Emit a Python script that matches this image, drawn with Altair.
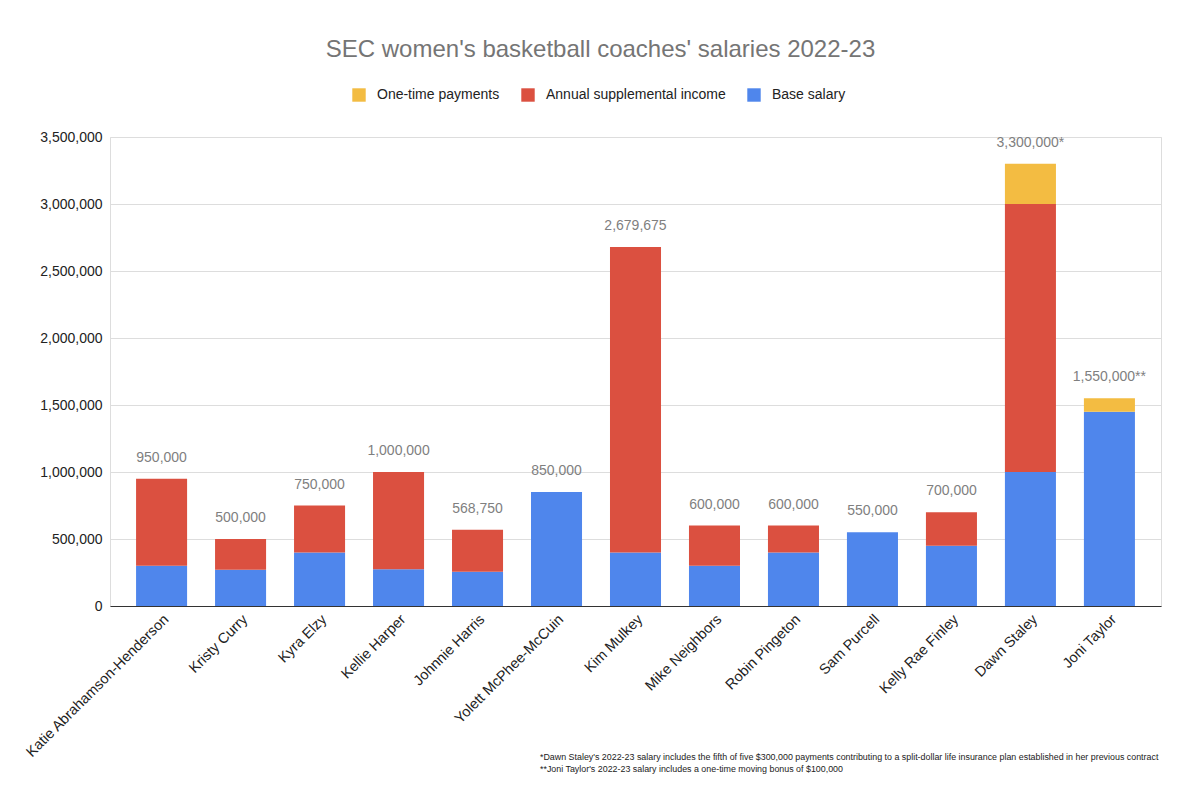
import altair as alt
import pandas as pd

coaches = ["Katie Abrahamson-Henderson", "Kristy Curry", "Kyra Elzy", "Kellie Harper",
           "Johnnie Harris", "Yolett McPhee-McCuin", "Kim Mulkey", "Mike Neighbors",
           "Robin Pingeton", "Sam Purcell", "Kelly Rae Finley", "Dawn Staley", "Joni Taylor"]
base_salary = [300000, 270000, 400000, 275000, 255000, 850000, 400000, 300000,
               400000, 550000, 450000, 1000000, 1450000]
supplemental = [650000, 230000, 350000, 725000, 313750, 0, 2279675, 300000,
                200000, 0, 250000, 2000000, 0]
one_time = [0, 0, 0, 0, 0, 0, 0, 0, 0, 0, 0, 300000, 100000]
total_labels = ["950,000", "500,000", "750,000", "1,000,000", "568,750", "850,000",
                "2,679,675", "600,000", "600,000", "550,000", "700,000",
                "3,300,000*", "1,550,000**"]
series = ["One-time payments", "Annual supplemental income", "Base salary"]
colors = ["#f3bc42", "#db5040", "#4f86ec"]
footnotes = [
    "*Dawn Staley's 2022-23 salary includes the fifth of five $300,000 payments contributing to a split-dollar life insurance plan established in her previous contract",
    "**Joni Taylor's 2022-23 salary includes a one-time moving bonus of $100,000",
]

rows = []
for i, c in enumerate(coaches):
    for s, v, o in [("Base salary", base_salary[i], 0),
                    ("Annual supplemental income", supplemental[i], 1),
                    ("One-time payments", one_time[i], 2)]:
        rows.append({"coach": c, "series": s, "value": v, "ord": o})
df = pd.DataFrame(rows)

totals = pd.DataFrame({
    "coach": coaches,
    "total": [b + s + o for b, s, o in zip(base_salary, supplemental, one_time)],
    "label": total_labels,
})
notes = pd.DataFrame({"note": ["\n".join(footnotes)]})

FONT = "Liberation Sans"

xenc = alt.X("coach:N", sort=coaches, title=None,
             scale=alt.Scale(paddingInner=0.354, paddingOuter=0.33),
             axis=alt.Axis(labelAngle=-45, labelAlign="right", labelBaseline="top",
                           labelFontSize=14.5, labelColor="#222222", labelFont=FONT,
                           ticks=False, domainColor="#333333", domainWidth=1.2,
                           labelPadding=6, labelLimit=400))

yscale = alt.Scale(domain=[0, 3500000], nice=False)

bars = alt.Chart(df).mark_bar().encode(
    x=xenc,
    y=alt.Y("value:Q", aggregate="sum", title=None, stack="zero", scale=yscale,
            axis=alt.Axis(values=[0, 500000, 1000000, 1500000, 2000000, 2500000, 3000000, 3500000],
                          format=",.0f", labelFontSize=14, labelColor="#222222", labelFont=FONT,
                          ticks=False, domain=False, gridColor="#dddddd", labelPadding=8)),
    color=alt.Color("series:N", scale=alt.Scale(domain=series, range=colors),
                    legend=alt.Legend(title=None, orient="none", direction="horizontal",
                                      legendX=242, legendY=-49, symbolType="square",
                                      symbolSize=180, symbolStrokeWidth=0,
                                      labelFontSize=14, labelColor="#222222", labelFont=FONT,
                                      labelLimit=400, columnPadding=21, labelOffset=11)),
    order=alt.Order("ord:Q", sort="ascending"),
)

labels = alt.Chart(totals).mark_text(dy=-21, fontSize=14, color="#7f7f7f", font=FONT).encode(
    x=alt.X("coach:N", sort=coaches),
    y=alt.Y("total:Q", scale=yscale),
    text="label:N",
)

foot = alt.Chart(notes).mark_text(align="left", baseline="middle", fontSize=8.9,
                                  lineBreak="\n", lineHeight=12,
                                  color="#222222", font=FONT).encode(
    x=alt.value(430),
    y=alt.value(620),
    text="note:N",
)

chart = alt.layer(bars, labels, foot).properties(
    width=1051, height=469,
    title=alt.TitleParams("SEC women's basketball coaches' salaries 2022-23", fontSize=24,
                          color="#757575", font=FONT, fontWeight="normal",
                          anchor="middle", dx=-35, offset=26),
    autosize=alt.AutoSizeParams(type="none"),
    padding={"left": 110, "top": 137, "right": 39, "bottom": 188},
).configure_view(stroke=None).configure(background="white")

chart.save("out.html", embed_options={"renderer": "svg", "actions": False})
